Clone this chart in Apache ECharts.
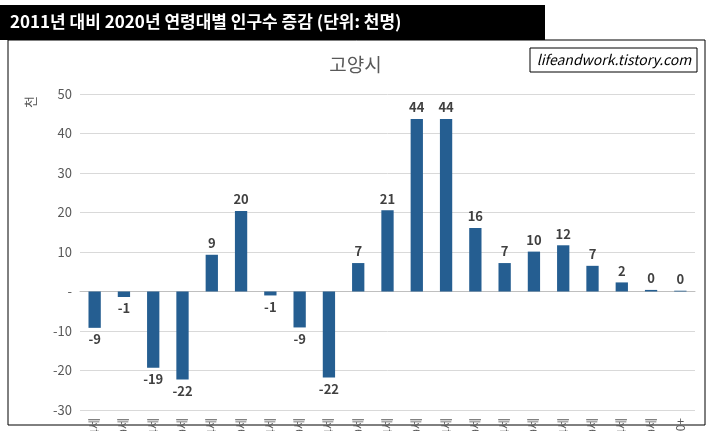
<!DOCTYPE html><html><head><meta charset="utf-8">
<script src="https://cdn.jsdelivr.net/npm/echarts@6/dist/echarts.min.js"></script>
<style>body{margin:0;background:#fff}#c{width:711px;height:431px}</style></head><body><div id="c"></div>
<script>
const categories=['0 - 4세','5 - 9세','10 - 14세','15 - 19세','20 - 24세','25 - 29세','30 - 34세','35 - 39세','40 - 44세','45 - 49세','50 - 54세','55 - 59세','60 - 64세','65 - 69세','70 - 74세','75 - 79세','80 - 84세','85 - 89세','90 - 94세','95 - 99세','100+'];
const values=[-9.2,-1.4,-19.3,-22.3,9.3,20.4,-1.0,-9.1,-21.8,7.2,20.6,43.7,43.7,16.1,7.2,10.1,11.7,6.5,2.3,0.4,0.2];
const yTicks=[-30,-20,-10,0,10,20,30,40,50];
const ch=echarts.init(document.getElementById('c'));
const F='"Malgun Gothic","Noto Sans CJK KR",sans-serif';
ch.setOption({
 animation:false,
 graphic:[
  {type:'rect',shape:{x:8,y:40,width:697,height:385},style:{fill:'none',stroke:'#000',lineWidth:1}},
  {type:'rect',shape:{x:0,y:5,width:545,height:35},style:{fill:'#000'}},
  {type:'text',x:10,y:22,style:{text:'2011년 대비 2020년 연령대별 인구수 증감 (단위: 천명)',fill:'#fff',font:'bold 17px '+F,textVerticalAlign:'middle'}},
  {type:'rect',shape:{x:530,y:48,width:167,height:24},style:{fill:'#fff',stroke:'#000',lineWidth:1}},
  {type:'text',x:614,y:60,style:{text:'lifeandwork.tistory.com',fill:'#000',font:'italic 14px '+F,textAlign:'center',textVerticalAlign:'middle'}},
  {type:'text',x:30,y:102,rotation:Math.PI/2,style:{text:'천',fill:'#595959',font:'13px '+F,textAlign:'center',textVerticalAlign:'middle'}}
 ],
 title:{text:'고양시',left:'center',top:50,textStyle:{color:'#595959',fontSize:19,fontWeight:'normal',fontFamily:F}},
 grid:{left:80,right:16,top:94,bottom:21,containLabel:false,outerBoundsMode:'none'},
 xAxis:{type:'category',data:categories,axisLine:{onZero:true,lineStyle:{color:'#bfbfbf'}},axisTick:{show:false},
  axisLabel:{rotate:90,interval:0,color:'#595959',fontSize:12,fontFamily:F}},
 yAxis:{type:'value',min:-30,max:50,interval:10,
  axisLabel:{color:'#595959',fontSize:13,fontFamily:F,formatter:v=>v===0?'-':String(v)},
  splitLine:{lineStyle:{color:'#d9d9d9'}},axisLine:{show:false}},
 series:[{type:'bar',barWidth:'42%',itemStyle:{color:'#255e91'},
  data:values.map(v=>({value:v,label:{position:v<0?'bottom':'top'}})),
  label:{show:true,color:'#404040',fontWeight:'bold',fontSize:13,fontFamily:F,formatter:p=>String(Math.round(p.value))}}]
});
</script></body></html>
